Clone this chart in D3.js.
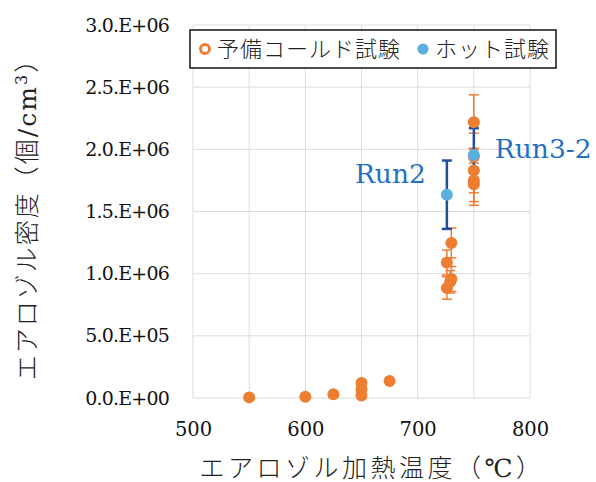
<!DOCTYPE html>
<html>
<head>
<meta charset="utf-8">
<script src="https://cdn.jsdelivr.net/npm/d3@7"></script>
<style>
  body { margin: 0; background: #fff; }
  svg { font-family: "DejaVu Serif", "Noto Sans CJK JP", serif; }
</style>
</head>
<body>
<svg id="chart"></svg>
<script>
const coldTemps  = [550, 600, 625, 650, 650, 650, 675, 726, 726, 730, 730, 729, 750, 750, 750, 750, 750];
const coldValues = [5e3, 1e4, 3e4, 1.2e5, 7e4, 2e4, 1.37e5, 1.09e6, 0.885e6, 1.247e6, 0.957e6, 0.935e6, 2.218e6, 1.94e6, 1.83e6, 1.75e6, 1.72e6];
const coldErrors = [0, 0, 0, 0, 0, 0, 0, 0.1e6, 0.09e6, 0.12e6, 0.1e6, 0.09e6, 0.22e6, 0.19e6, 0.18e6, 0.17e6, 0.17e6];
const hotTemps   = [726, 750];
const hotValues  = [1.635e6, 1.955e6];
const hotErrors  = [0.275e6, 0.215e6];
const hotLabels  = ["Run2", "Run3-2"];
const xTicks = [500, 600, 700, 800];
const xGrid = [500, 550, 600, 650, 700, 750, 800];
const yTicks = [0, 5e5, 1e6, 1.5e6, 2e6, 2.5e6, 3e6];

const width = 596, height = 482;
const margin = {top: 25, right: 66, bottom: 84, left: 193};
const plotW = width - margin.left - margin.right;
const plotH = height - margin.top - margin.bottom;

const svg = d3.select("#chart").attr("width", width).attr("height", height);
const g = svg.append("g").attr("transform", `translate(${margin.left}, ${margin.top})`);

const x = d3.scaleLinear().domain([500, 800]).range([0, plotW]);
const y = d3.scaleLinear().domain([0, 3e6]).range([plotH, 0]);

const fmt = v => {
    const s = v.toExponential(1).split("e");
    const exp = +s[1];
    return `${s[0]}.E+${String(exp).padStart(2, "0")}`;
};

// grid
g.selectAll(".vgrid").data(xGrid).enter().append("line")
    .attr("x1", d => x(d)).attr("x2", d => x(d))
    .attr("y1", 0).attr("y2", plotH)
    .attr("stroke", "#dcdcdc").attr("stroke-width", 1);
g.selectAll(".hgrid").data(yTicks).enter().append("line")
    .attr("x1", 0).attr("x2", plotW)
    .attr("y1", d => y(d)).attr("y2", d => y(d))
    .attr("stroke", "#dcdcdc").attr("stroke-width", 1);

// axes
const xAxis = g.append("g").attr("transform", `translate(0, ${plotH})`)
    .call(d3.axisBottom(x).tickValues(xTicks).tickSize(0).tickPadding(24));
xAxis.select(".domain").remove();
xAxis.selectAll("text").attr("font-size", "19.5px").attr("fill", "#111")
    .attr("font-family", "DejaVu Serif");

const yAxis = g.append("g")
    .call(d3.axisLeft(y).tickValues(yTicks).tickFormat(fmt).tickSize(0).tickPadding(24));
yAxis.select(".domain").remove();
yAxis.selectAll("text").attr("font-size", "19px").attr("fill", "#111")
    .attr("letter-spacing", "-0.8px")
    .attr("font-family", "DejaVu Serif");

// error bars
const errBar = (sel, color, w) => {
    sel.append("line")
        .attr("x1", d => x(d.t)).attr("x2", d => x(d.t))
        .attr("y1", d => y(d.v - d.e)).attr("y2", d => y(d.v + d.e))
        .attr("stroke", color).attr("stroke-width", w);
    [-1, 1].forEach(sgn => {
        sel.append("line")
            .attr("x1", d => x(d.t) - 5).attr("x2", d => x(d.t) + 5)
            .attr("y1", d => y(d.v + sgn * d.e)).attr("y2", d => y(d.v + sgn * d.e))
            .attr("stroke", color).attr("stroke-width", w);
    });
};

const cold = coldTemps.map((t, i) => ({t, v: coldValues[i], e: coldErrors[i]}));
const hot = hotTemps.map((t, i) => ({t, v: hotValues[i], e: hotErrors[i], label: hotLabels[i]}));

const coldErr = g.selectAll(".cerr").data(cold.filter(d => d.e > 0)).enter().append("g");
errBar(coldErr, "#ed7d31", 1.5);

const hotErr = g.selectAll(".herr").data(hot).enter().append("g");
errBar(hotErr, "#1f4e9c", 2.5);

g.selectAll(".cold").data(cold).enter().append("circle")
    .attr("cx", d => x(d.t)).attr("cy", d => y(d.v)).attr("r", 6)
    .attr("fill", "#ed7d31");

g.selectAll(".hot").data(hot).enter().append("circle")
    .attr("cx", d => x(d.t)).attr("cy", d => y(d.v)).attr("r", 6)
    .attr("fill", "#5aaee0");

// run labels
g.selectAll(".runlabel").data(hot).enter().append("text")
    .attr("x", (d, i) => i === 0 ? x(d.t) - 21 : x(d.t) + 21)
    .attr("y", (d, i) => i === 0 ? y(d.v) - 12 : y(d.v) + 3)
    .attr("text-anchor", (d, i) => i === 0 ? "end" : "start")
    .attr("font-size", "26.5px")
    .attr("fill", "#1f6fc5")
    .text(d => d.label);

// legend
const legend = svg.append("g");
legend.append("rect")
    .attr("x", 190).attr("y", 30).attr("width", 366).attr("height", 38)
    .attr("fill", "#fff").attr("stroke", "#111").attr("stroke-width", 1.5);
legend.append("circle").attr("cx", 205).attr("cy", 49).attr("r", 4.5)
    .attr("fill", "#fff").attr("stroke", "#ed7d31").attr("stroke-width", 3);
legend.append("text").attr("x", 217).attr("y", 57).attr("font-size", "22px")
    .attr("letter-spacing", "1px").attr("font-weight", 300)
    .attr("fill", "#222").text("予備コールド試験");
legend.append("circle").attr("cx", 423).attr("cy", 49).attr("r", 5.5)
    .attr("fill", "#5aaee0");
legend.append("text").attr("x", 435).attr("y", 57).attr("font-size", "22px")
    .attr("letter-spacing", "1px").attr("font-weight", 300)
    .attr("fill", "#222").text("ホット試験");

// axis titles
svg.append("text")
    .attr("x", 372).attr("y", 477)
    .attr("text-anchor", "middle").attr("font-size", "25px").attr("fill", "#222")
    .attr("letter-spacing", "3.5px").attr("font-weight", 300)
    .text("エアロゾル加熱温度（℃）");

svg.append("text")
    .attr("transform", "translate(36, 213) rotate(-90)")
    .attr("text-anchor", "middle").attr("font-size", "25px").attr("fill", "#222")
    .attr("letter-spacing", "2px").attr("font-weight", 300)
    .html("エアロゾル密度（個/cm<tspan dy='-9' font-size='16px'>3</tspan><tspan dy='9'>）</tspan>");
</script>
</body>
</html>
